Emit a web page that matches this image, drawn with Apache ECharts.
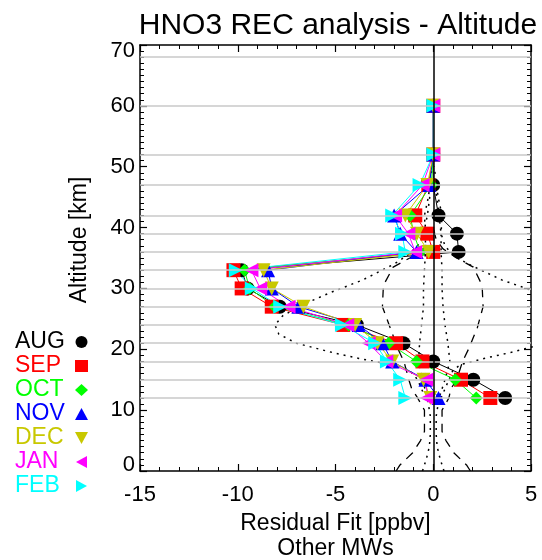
<!DOCTYPE html>
<html>
<head>
<meta charset="utf-8">
<title>HNO3 REC analysis - Altitude</title>
<script src="https://cdn.jsdelivr.net/npm/echarts@6/dist/echarts.min.js"></script>
<style>
  html, body { margin: 0; padding: 0; background: #fff; }
  #chart { width: 542px; height: 560px; }
</style>
</head>
<body>
<div id="chart"></div>
<script>
// retrieval levels (km) and residual fit per month (ppbv)
const altitudes = [60, 52, 47, 42, 39, 36, 33, 30, 27, 24, 21, 18, 15, 12]
const aug = [0, 0, 0, 0.27, 1.21, 1.3, -9.8, -9.5, -7.85, -3.9, -1.52, 0.0, 2.05, 3.68]
const sep = [0, 0, -0.25, -0.92, -0.3, 0.0, -10.22, -9.8, -8.26, -4.6, -1.9, -0.55, 1.42, 2.92]
const oct = [0, 0, -0.1, -1.18, -1.0, -0.67, -9.65, -9.4, -8.1, -4.33, -2.28, -0.86, 1.13, 2.2]
const nov = [0, 0, -0.2, -2.0, -1.69, -0.85, -8.45, -8.26, -6.9, -3.82, -2.6, -2.1, -0.4, 0.27]
const dec = [0, 0, -0.3, -1.43, -0.83, -0.24, -8.68, -8.26, -6.64, -4.0, -2.85, -2.1, -0.5, -0.15]
const jan = [0, 0, -0.55, -1.95, -1.27, -0.92, -9.3, -8.85, -7.4, -4.4, -3.3, -2.4, -0.36, -0.32]
const feb = [0, 0, -0.7, -2.1, -1.6, -1.43, -10.1, -9.28, -7.83, -4.67, -2.97, -2.37, -1.69, -1.43]

// error envelopes (dashed / dotted), altitude vs ppbv
const dashAlt = [0, 1, 3, 5, 6.5, 10, 12, 13.5, 15, 18, 20, 23.5, 27, 30.5, 33.5, 35, 36.5, 38, 40]
const dashLeft = [-1.9, -1.7, -1.05, -0.65, -0.45, -0.45, -0.8, -1.1, -1.25, -1.5, -1.8, -2.2, -2.6, -2.55, -2.05, -1.2, -0.5, -0.15, 0]
const dashRight = [1.9, 1.7, 1.05, 0.65, 0.45, 0.45, 0.8, 0.9, 1.2, 1.5, 1.8, 2.25, 2.55, 2.5, 2.05, 1.2, 0.5, 0.15, 0]
const dotOuterAlt = [12, 15, 16.5, 17.5, 18.5, 19.5, 21, 22.5, 24, 25.5, 27.3, 29.4, 31.4, 34, 35.5, 37, 39, 42, 47]
const dotOuterLeft = [-0.4, -0.8, -1.2, -2.2, -3.8, -5.2, -7.0, -7.9, -8.1, -7.7, -6.7, -5.2, -3.6, -2.0, -1.3, -0.8, -0.5, -0.3, -0.1]
const dotOuterRight = [0.4, 0.8, 1.0, 1.4, 2.6, 4.0, 5.8, 7.5, 8.1, 7.9, 7.0, 5.3, 3.5, 1.8, 1.0, 0.6, 0.4, 0.3, 0.1]
const dotInnerAlt = [0, 2, 4, 6, 9, 12, 15, 18, 21, 24, 27, 30, 33, 36, 39, 42, 45, 50]
const dotInnerLeft = [-0.55, -0.35, -0.2, -0.15, -0.15, -0.3, -0.55, -0.75, -0.7, -0.6, -0.5, -0.5, -0.45, -0.4, -0.4, -0.45, -0.25, -0.05]
const dotInnerRight = [0.55, 0.35, 0.2, 0.15, 0.15, 0.3, 0.6, 0.85, 0.75, 0.6, 0.5, 0.45, 0.45, 0.4, 0.4, 0.45, 0.25, 0.05]

// horizontal reference lines (km)
const gridAlts = [68, 60, 52, 47, 42, 39, 36, 33, 30, 27, 24, 21, 18, 15, 12]
const xTicks = { min: -15, max: 5, interval: 5 }
const yTicks = { min: 0, max: 70, interval: 10 }

const FONT = '"Liberation Sans", Arial, Helvetica, sans-serif'
const triDown = 'path://M0,0L12,0L6,11Z'
const triLeft = 'path://M0,6L11,0L11,12Z'
const triRight = 'path://M0,0L11,6L0,12Z'

const months = [
  { name: 'AUG', values: aug, color: '#000000', symbol: 'circle', size: 14 },
  { name: 'SEP', values: sep, color: '#ff0000', symbol: 'rect', size: 14 },
  { name: 'OCT', values: oct, color: '#00ff00', symbol: 'diamond', size: 13 },
  { name: 'NOV', values: nov, color: '#0000ff', symbol: 'triangle', size: 14 },
  { name: 'DEC', values: dec, color: '#c8c800', symbol: triDown, size: 14 },
  { name: 'JAN', values: jan, color: '#ff00ff', symbol: triLeft, size: 14 },
  { name: 'FEB', values: feb, color: '#00ffff', symbol: triRight, size: 14 }
]

function pairs(xs, ys) {
  return xs.map((v, i) => [v, ys[i]])
}

function envelope(xs, ys, type, width) {
  return {
    type: 'line',
    data: pairs(xs, ys),
    showSymbol: false,
    silent: true,
    z: 2,
    lineStyle: { color: '#000', width: width, type: type }
  }
}

const chart = echarts.init(document.getElementById('chart'))

function axisX(pos, showLabel) {
  return {
    type: 'value',
    position: pos,
    min: xTicks.min,
    max: xTicks.max,
    interval: xTicks.interval,
    axisLine: { show: true, onZero: false, lineStyle: { color: '#000', width: 1.5 } },
    axisTick: { show: true, inside: true, length: 7, lineStyle: { color: '#000', width: 1.2 } },
    minorTick: { show: true, splitNumber: 5, length: 4, lineStyle: { color: '#000', width: 1 } },
    splitLine: { show: false },
    axisLabel: { show: showLabel, color: '#000', fontSize: 22, fontFamily: FONT, margin: 13 }
  }
}

function axisY(pos, showLabel) {
  return {
    type: 'value',
    position: pos,
    min: yTicks.min,
    max: yTicks.max,
    interval: yTicks.interval,
    axisLine: { show: true, onZero: false, lineStyle: { color: '#000', width: 1.5 } },
    axisTick: { show: true, inside: true, length: 7, lineStyle: { color: '#000', width: 1.2 } },
    minorTick: { show: true, splitNumber: 10, length: 4, lineStyle: { color: '#000', width: 1 } },
    splitLine: { show: false },
    axisLabel: {
      show: showLabel, color: '#000', fontSize: 22, fontFamily: FONT, margin: 5,
      // end labels sit inside the frame a little
      formatter: v => v === yTicks.max ? '{hi|' + v + '}' : v === yTicks.min ? '{lo|' + v + '}' : String(v),
      rich: {
        hi: { fontSize: 22, fontFamily: FONT, color: '#000', padding: [12, 0, 0, 0] },
        lo: { fontSize: 22, fontFamily: FONT, color: '#000', padding: [0, 0, 13, 0] }
      }
    }
  }
}

const xBottom = axisX('bottom', true)
xBottom.name = 'Residual Fit [ppbv]\nOther MWs'
xBottom.nameLocation = 'middle'
xBottom.nameGap = 33
xBottom.nameTextStyle = { color: '#000', fontSize: 23, lineHeight: 25, fontFamily: FONT }

const series = [
  {
    type: 'line',
    data: [],
    silent: true,
    z: 1,
    markLine: {
      silent: true,
      symbol: ['none', 'none'],
      label: { show: false },
      lineStyle: { color: '#c8c8c8', width: 1.6, type: 'solid' },
      data: gridAlts.map(a => ({ yAxis: a }))
    }
  },
  envelope(dashLeft, dashAlt, [9, 7], 1.3),
  envelope(dashRight, dashAlt, [9, 7], 1.3),
  envelope(dotOuterLeft, dotOuterAlt, [2, 5], 1.5),
  envelope(dotOuterRight, dotOuterAlt, [2, 5], 1.5),
  envelope(dotInnerLeft, dotInnerAlt, [2, 5], 1.5),
  envelope(dotInnerRight, dotInnerAlt, [2, 5], 1.5),
  {
    type: 'line',
    data: [],
    silent: true,
    z: 2,
    markLine: {
      silent: true,
      symbol: ['none', 'none'],
      label: { show: false },
      lineStyle: { color: '#000', width: 1.5, type: 'solid' },
      data: [{ xAxis: 0 }]
    }
  }
]

months.forEach(m => {
  series.push({
    name: m.name,
    type: 'line',
    data: pairs(m.values, altitudes),
    symbol: m.symbol,
    symbolSize: m.size,
    z: 3,
    color: m.color,
    itemStyle: { color: m.color, borderWidth: 0 },
    lineStyle: { color: m.color, width: 1 }
  })
})

chart.setOption({
  animation: false,
  backgroundColor: '#fff',
  title: {
    text: 'HNO3 REC analysis - Altitude',
    left: 333,
    top: 6,
    textAlign: 'center',
    textStyle: { color: '#000', fontSize: 30, fontWeight: 'normal', fontFamily: FONT }
  },
  grid: { left: 140, right: 11, top: 45, bottom: 89, containLabel: false, outerBoundsMode: 'none' },
  xAxis: [xBottom, axisX('top', false)],
  yAxis: [axisY('left', true), axisY('right', false)],
  legend: [
    {
      // marker column
      orient: 'vertical',
      left: 75,
      top: 336,
      padding: 0,
      itemWidth: 13,
      itemHeight: 12,
      itemGap: 12,
      selectedMode: false,
      formatter: () => '',
      textStyle: { fontSize: 1 },
      data: months.map(m => ({ name: m.name, icon: m.symbol, itemStyle: { color: m.color, borderWidth: 0 } }))
    },
    {
      // month names
      orient: 'vertical',
      left: 10,
      top: 330,
      padding: 0,
      itemWidth: 0,
      itemHeight: 24,
      itemGap: 0,
      selectedMode: false,
      textStyle: { fontSize: 23, lineHeight: 24, fontFamily: FONT },
      data: months.map(m => ({ name: m.name, icon: 'rect', itemStyle: { opacity: 0 }, textStyle: { color: m.color } }))
    }
  ],
  graphic: [
    {
      type: 'text',
      x: 80,
      y: 240,
      rotation: Math.PI / 2,
      style: {
        text: 'Altitude [km]',
        fill: '#000',
        fontSize: 23,
        fontFamily: FONT,
        align: 'center',
        verticalAlign: 'middle'
      }
    }
  ],
  series: series
})
</script>
</body>
</html>
